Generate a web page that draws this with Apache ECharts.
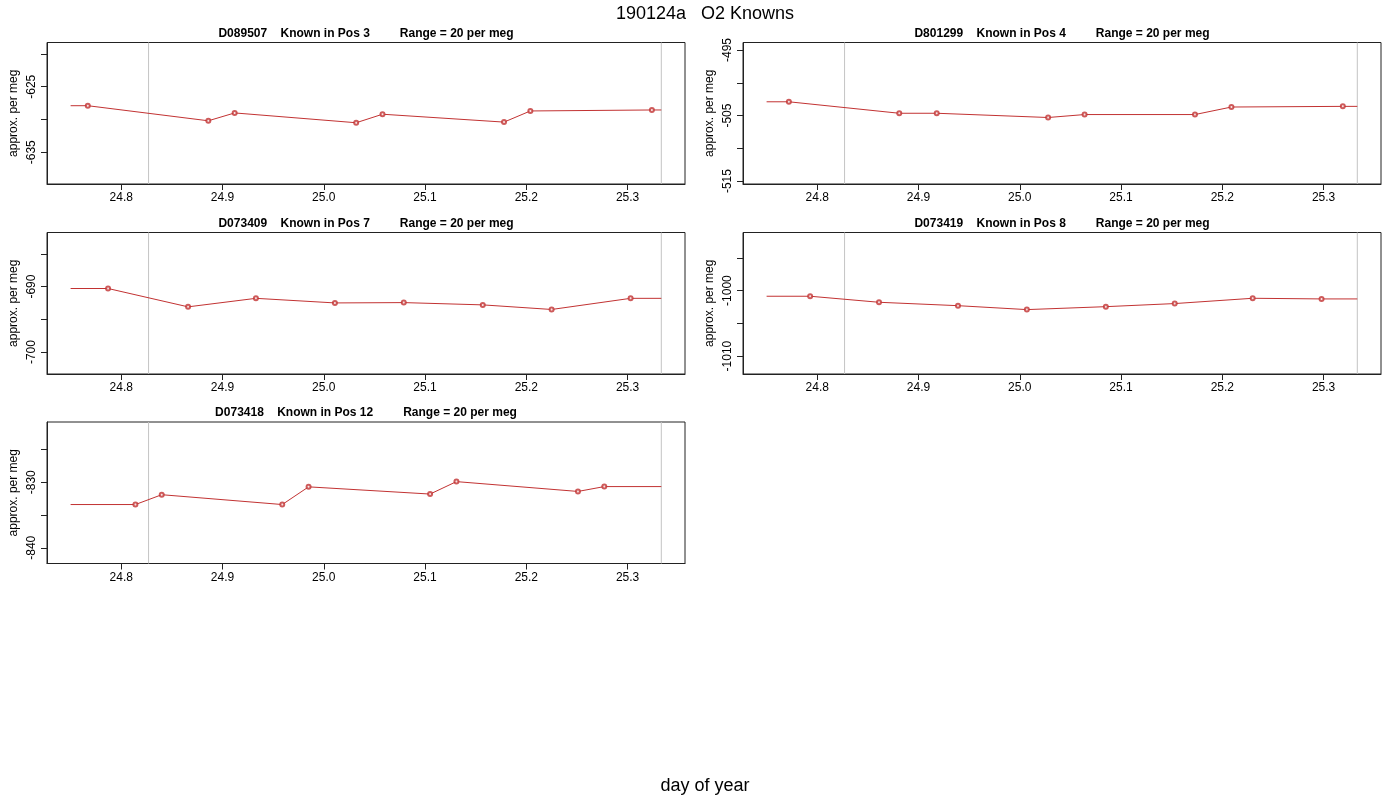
<!DOCTYPE html>
<html>
<head>
<meta charset="utf-8">
<script src="https://cdn.jsdelivr.net/npm/echarts@6/dist/echarts.min.js"></script>
<style>
  html, body { margin: 0; padding: 0; background: #fff; }
  #chart { width: 1400px; height: 800px; }
</style>
</head>
<body>
<div id="chart"></div>
<script>
// x range of the run (day of year)
const xStart = 24.75, xEnd = 25.3333;
const xMin = 24.7267, xMax = 25.3567;
const xTicks = [24.8, 24.9, 25.0, 25.1, 25.2, 25.3];
const markTimes = [24.827, 25.3333];

const panelTitles = [
  'D089507    Known in Pos 3         Range = 20 per meg',
  'D801299    Known in Pos 4         Range = 20 per meg',
  'D073409    Known in Pos 7         Range = 20 per meg',
  'D073419    Known in Pos 8         Range = 20 per meg',
  'D073418    Known in Pos 12         Range = 20 per meg'
];

const times1 = [24.767, 24.886, 24.912, 25.032, 25.058, 25.178, 25.204, 25.324];
const vals1  = [-627.9, -630.2, -629.0, -630.5, -629.2, -630.4, -628.7, -628.55];

const times2 = [24.772, 24.881, 24.918, 25.028, 25.064, 25.173, 25.209, 25.319];
const vals2  = [-502.9, -504.65, -504.65, -505.3, -504.85, -504.85, -503.7, -503.6];

const times3 = [24.787, 24.866, 24.933, 25.011, 25.079, 25.157, 25.225, 25.303];
const vals3  = [-690.3, -693.1, -691.8, -692.5, -692.45, -692.8, -693.5, -691.8];

const times4 = [24.793, 24.861, 24.939, 25.007, 25.085, 25.153, 25.230, 25.298];
const vals4  = [-1000.86, -1001.78, -1002.3, -1002.9, -1002.45, -1001.98, -1001.17, -1001.27];

const times5 = [24.814, 24.840, 24.959, 24.985, 25.105, 25.131, 25.251, 25.277];
const vals5  = [-833.4, -831.9, -833.4, -830.7, -831.8, -829.9, -831.4, -830.66];

// axis centres (range is 20 per meg, plus R's 4% padding)
const yCenters = [-629.05, -504.65, -692.55, -1001.93, -831.6];
const yTicks = [
  [-620, -625, -630, -635],
  [-495, -500, -505, -510, -515],
  [-685, -690, -695, -700],
  [-995, -1000, -1005, -1010],
  [-825, -830, -835, -840]
];
const yLabels = [
  [-625, -635],
  [-495, -505, -515],
  [-690, -700],
  [-1000, -1010],
  [-830, -840]
];

const allTimes = [times1, times2, times3, times4, times5];
const allVals = [vals1, vals2, vals3, vals4, vals5];

const font = 'Liberation Sans, Arial, Helvetica, sans-serif';
const red = '#c23232';
const boxes = [
  { left: 47, top: 42.5 },
  { left: 743, top: 42.5 },
  { left: 47, top: 232.5 },
  { left: 743, top: 232.5 },
  { left: 47, top: 422 }
];
const W = 638, H = 141.5;

const grid = [], xAxis = [], yAxis = [], series = [], title = [];

// title component adds 5px padding, so offsets are shifted by that
title.push({
  text: '190124a   O2 Knowns', left: 700, top: 0, textAlign: 'center',
  textStyle: { fontFamily: font, fontSize: 18, fontWeight: 'normal', color: '#000' }
});
title.push({
  text: 'day of year', left: 700, top: 772, textAlign: 'center',
  textStyle: { fontFamily: font, fontSize: 18, fontWeight: 'normal', color: '#000' }
});

boxes.forEach((b, i) => {
  const yMin = yCenters[i] - 10.8, yMax = yCenters[i] + 10.8;
  grid.push({
    left: b.left, top: b.top, width: W, height: H,
    show: true, borderColor: '#222', borderWidth: 1, backgroundColor: 'transparent'
  });
  title.push({
    text: panelTitles[i], left: b.left + W / 2 - 5, top: b.top - 20, textAlign: 'center',
    textStyle: { fontFamily: font, fontSize: 12, fontWeight: 'bold', color: '#000' }
  });
  xAxis.push({
    type: 'value', gridIndex: i, min: xMin, max: xMax,
    axisLine: { show: true, onZero: false, lineStyle: { color: '#222' } },
    axisTick: { show: true, inside: false, length: 6, customValues: xTicks, lineStyle: { color: '#222' } },
    axisLabel: {
      customValues: xTicks, margin: 8, fontFamily: font, fontSize: 12, color: '#000',
      formatter: v => v.toFixed(1)
    },
    splitLine: { show: false }
  });
  yAxis.push({
    type: 'value', gridIndex: i, min: yMin, max: yMax,
    name: 'approx. per meg', nameLocation: 'middle', nameGap: 27,
    nameTextStyle: { fontFamily: font, fontSize: 12, color: '#000' },
    axisLine: { show: true, onZero: false, lineStyle: { color: '#222' } },
    axisTick: { show: true, inside: false, length: 6, customValues: yTicks[i], lineStyle: { color: '#222' } },
    axisLabel: {
      customValues: yLabels[i], rotate: 90, margin: 9, fontFamily: font, fontSize: 12, color: '#000',
      formatter: v => String(Math.round(v))
    },
    splitLine: { show: false }
  });

  // gray vertical markers spanning the panel
  markTimes.forEach(m => {
    series.push({
      type: 'line', xAxisIndex: i, yAxisIndex: i, data: [[m, yMin], [m, yMax]],
      symbol: 'none', lineStyle: { color: '#c4c4c4', width: 1 }, animation: false,
      silent: true, z: 1
    });
  });

  const t = allTimes[i], v = allVals[i];
  const lineData = [[xStart, v[0]]];
  t.forEach((x, k) => lineData.push([x, v[k]]));
  lineData.push([xEnd, v[v.length - 1]]);

  series.push({
    type: 'line', xAxisIndex: i, yAxisIndex: i, data: lineData,
    symbol: 'none', lineStyle: { color: red, width: 1 }, animation: false, z: 2
  });
  series.push({
    type: 'scatter', xAxisIndex: i, yAxisIndex: i,
    data: t.map((x, k) => [x, v[k]]),
    symbol: 'emptyCircle', symbolSize: 4,
    itemStyle: { color: red, borderColor: red, borderWidth: 0.8 },
    animation: false, z: 3
  });
});

const chart = echarts.init(document.getElementById('chart'));
chart.setOption({
  backgroundColor: '#fff',
  animation: false,
  title, grid, xAxis, yAxis, series
});
</script>
</body>
</html>
